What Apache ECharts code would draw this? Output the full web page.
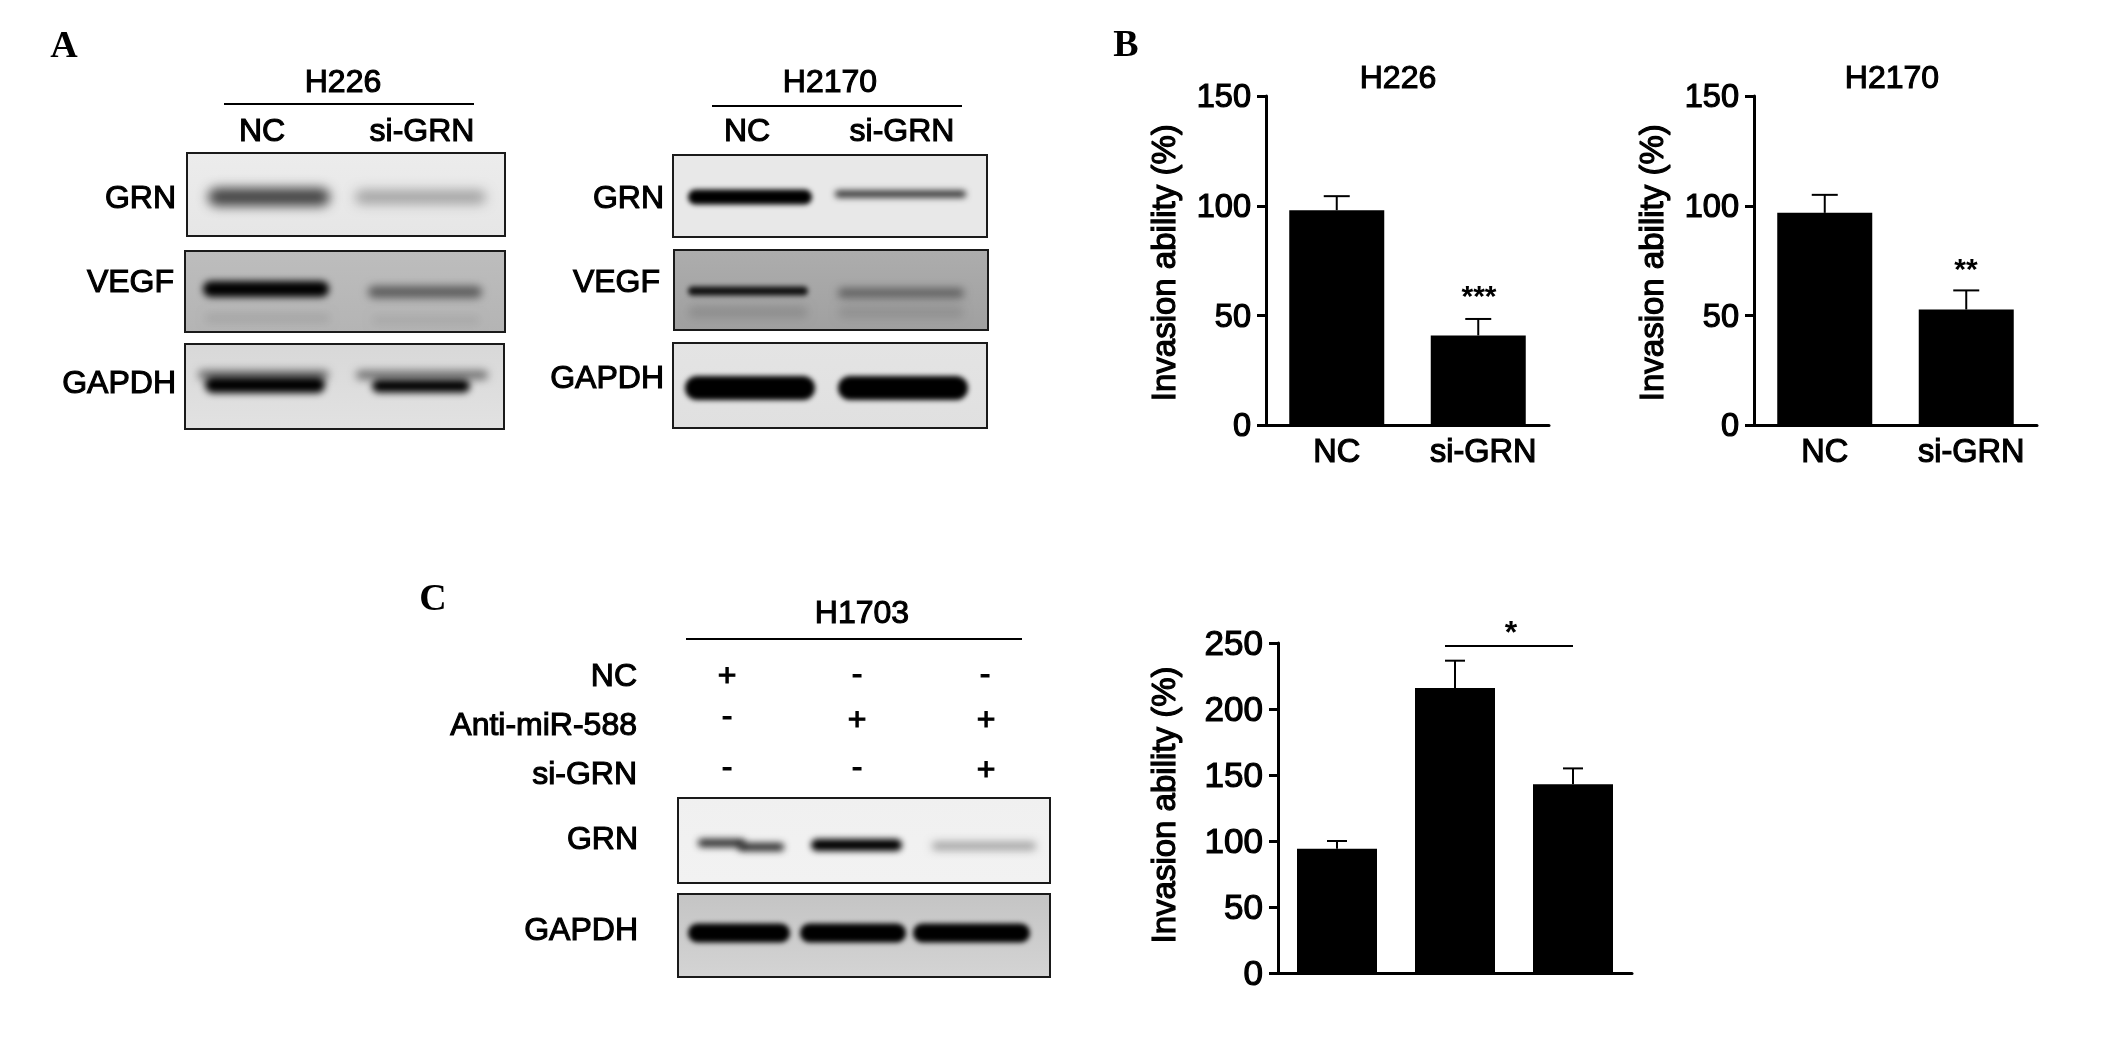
<!DOCTYPE html>
<html><head><meta charset="utf-8">
<style>html,body{margin:0;padding:0;background:#fff}#c{width:2126px;height:1038px}</style>
<script src="https://cdn.jsdelivr.net/npm/echarts@6/dist/echarts.min.js"></script>
</head><body><div id="c"></div>
<script>
// ---- data ----
const twoGroups = ['NC', 'si-GRN'];
const threeGroups = ['NC', 'Anti-miR-588', 'Anti-miR-588 + si-GRN'];
const h226Values = [98, 41];
const h226ErrTop = [104.4, 48.5];
const h2170Values = [96.8, 52.8];
const h2170ErrTop = [105, 61.5];
const h1703Values = [94.2, 216, 143];
const h1703ErrTop = [100, 236.6, 155];
// band darkness of the blots (0..1)
const grnH226 = [0.72, 0.3];
const vegfH226 = [1, 0.5, 0.1, 0.08];
const gapdhH226 = [0.5, 1, 0.5, 1];
const grnH2170 = [1, 0.8];
const vegfH2170 = [0.9, 0.45, 0.13, 0.11];
const gapdhH2170 = [1, 1];
const grnH1703 = [0.85, 0.85, 1, 0.35];
const gapdhH1703 = [1, 1, 1];

// ---- layout ----
const FONT = '"Liberation Sans", Arial, sans-serif';
const OFF = 5000;
const blots = [
  {box:[187,153,505,236], bg:['#ececec','#e6e6e6'], vals:grnH226, lanes:[[208,330,197,18,12],[355,486,197,14,12]]},
  {box:[185,251,505,332], bg:['#bdbdbd','#b4b4b4'], vals:vegfH226, lanes:[[203,329,289,16,7],[368,482,292,12,9],[205,330,318,8,10],[372,480,320,8,10]]},
  {box:[185,344,504,429], bg:['#d8d8d8','#e2e2e2'], vals:gapdhH226, lanes:[[198,329,375,10,9],[205,325,385,16,7],[356,488,375,9,9],[372,470,386,13,7]]},
  {box:[673,155,987,237], bg:['#e8e8e8','#e8e8e8'], vals:grnH2170, lanes:[[688,812,197,15,5],[835,966,194,7,6]]},
  {box:[674,250,988,330], bg:['#adadad','#a0a0a0'], vals:vegfH2170, lanes:[[688,808,291,9,5],[838,964,293,9,8],[688,808,312,12,10],[838,964,312,12,10]]},
  {box:[673,343,987,428], bg:['#e4e4e4','#e0e0e0'], vals:gapdhH2170, lanes:[[685,815,388,24,5],[838,968,388,24,5]]},
  {box:[678,798,1050,883], bg:['#f0f0f0','#f2f2f2'], vals:grnH1703, lanes:[[698,745,843,8,7],[738,784,847,8,7],[811,902,845,12,6],[932,1036,846,8,8]]},
  {box:[678,894,1050,977], bg:['#c4c4c4','#d4d4d4'], vals:gapdhH1703, lanes:[[688,790,933,19,5],[800,906,933,19,5],[913,1030,933,19,5]]}
];
const charts = [
  {rect:[1266,96,283,329.5], cats:twoGroups, vals:h226Values, errs:h226ErrTop, max:150, barW:95, cap:13, gap:84, tickFont:32.5, namePad:[0,4,0,0], showX:true},
  {rect:[1754,96,283,329.5], cats:twoGroups, vals:h2170Values, errs:h2170ErrTop, max:150, barW:95, cap:13, gap:84, tickFont:32.5, namePad:[0,4,0,0], showX:true},
  {rect:[1278,643,354,330], cats:threeGroups, vals:h1703Values, errs:h1703ErrTop, max:250, barW:80, cap:10, gap:96, tickFont:35, namePad:[0,0,0,6], showX:false}
];
const texts = [
  // panel letters
  ['A',64,47,'center',38,'serif'],['B',1126,46,'center',38,'serif'],['C',433,600,'center',38,'serif'],
  // panel A
  ['H226',343,83,'center'],['NC',262,132,'center'],['si-GRN',422,132,'center'],
  ['H2170',830,83,'center'],['NC',747,132,'center'],['si-GRN',902,132,'center'],
  ['GRN',176,199,'right'],['VEGF',174,283,'right'],['GAPDH',176,384,'right'],
  ['GRN',664,199,'right'],['VEGF',660,283,'right'],['GAPDH',664,379,'right'],
  // panel B titles and stars
  ['H226',1398,79,'center'],['H2170',1892,79,'center'],
  ['***',1479,298,'center',30,'bold'],['**',1966,271,'center',30,'bold'],
  // panel C
  ['H1703',862,614,'center'],
  ['NC',637,677,'right'],['Anti-miR-588',637,726,'right'],['si-GRN',637,775,'right'],
  ['GRN',638,840,'right'],['GAPDH',638,931,'right'],
  ['+',727,677,'center'],['-',857,675,'center'],['-',985,675,'center'],
  ['-',727,717,'center'],['+',857,721,'center'],['+',986,721,'center'],
  ['-',727,768,'center'],['-',857,768,'center'],['+',986,771,'center'],
  ['*',1511,634,'center',32,'bold']
];
const rules = [[224,474,104],[712,962,106],[686,1022,639],[1445,1573,646]];

// ---- build option ----
const grid = [], xAxis = [], yAxis = [], series = [];

charts.forEach(c => {
  const i = grid.length;
  grid.push({left:c.rect[0], top:c.rect[1], width:c.rect[2], height:c.rect[3], containLabel:false});
  xAxis.push({gridIndex:i, type:'category',
    data:c.cats.map((n,k)=>k===1 ? {value:n, textStyle:{padding:[0,0,0,10]}} : n),
    axisTick:{show:false},
    axisLine:{lineStyle:{color:'#000',width:3}},
    axisLabel:{show:c.showX, color:'#000', fontFamily:FONT, fontSize:32.5, margin:11, interval:0,
      textBorderColor:'#000', textBorderWidth:1.2}});
  yAxis.push({gridIndex:i, type:'value', min:0, max:c.max, interval:50,
    axisLine:{show:true, onZero:false, lineStyle:{color:'#000',width:3}},
    axisTick:{show:true, length:9, lineStyle:{color:'#000',width:3}},
    splitLine:{show:false},
    axisLabel:{color:'#000', fontFamily:FONT, fontSize:c.tickFont, margin:15, verticalAlign:'top', lineHeight:4,
      textBorderColor:'#000', textBorderWidth:1.2},
    name:'Invasion ability (%)', nameLocation:'middle', nameGap:c.gap,
    nameTextStyle:{color:'#000', fontFamily:FONT, fontSize:33, padding:c.namePad,
      textBorderColor:'#000', textBorderWidth:1.2}});
  series.push({type:'bar', xAxisIndex:i, yAxisIndex:i, data:c.vals, barWidth:c.barW, itemStyle:{color:'#000'}, animation:false});
  series.push({type:'custom', xAxisIndex:i, yAxisIndex:i, z:1, animation:false, silent:true,
    data:c.cats.map((n,k)=>[k,c.vals[k],c.errs[k]]),
    renderItem:(p,api)=>{
      const a = api.coord([api.value(0),api.value(1)]), b = api.coord([api.value(0),api.value(2)]);
      const ls = {stroke:'#000',lineWidth:2};
      return {type:'group',children:[
        {type:'line',shape:{x1:a[0],y1:a[1],x2:b[0],y2:b[1]},style:ls},
        {type:'line',shape:{x1:b[0]-c.cap,y1:b[1],x2:b[0]+c.cap,y2:b[1]},style:ls}
      ]};
    }});
});

const linearBg = (top,bottom)=>new echarts.graphic.LinearGradient(0,0,0,1,[{offset:0,color:top},{offset:1,color:bottom}]);
blots.forEach(b => {
  const i = grid.length;
  const w = b.box[2]-b.box[0], h = b.box[3]-b.box[1];
  grid.push({show:true, left:b.box[0], top:b.box[1], width:w, height:h, backgroundColor:linearBg(b.bg[0],b.bg[1]),
    borderColor:'#1a1a1a', borderWidth:2, containLabel:false});
  xAxis.push({gridIndex:i, type:'value', min:b.box[0], max:b.box[2], show:false});
  yAxis.push({gridIndex:i, type:'value', min:b.box[1], max:b.box[3], inverse:true, show:false, splitLine:{show:false}});
  series.push({type:'custom', xAxisIndex:i, yAxisIndex:i, animation:false, silent:true, clip:false,
    data:b.lanes.map((g,k)=>[...g,b.vals[k]]),
    renderItem:(p,api)=>{
      const t = api.value(3);
      const p0 = api.coord([api.value(0),api.value(2)-t/2]);
      const p1 = api.coord([api.value(1),api.value(2)+t/2]);
      return {type:'rect', shape:{x:p0[0]-OFF,y:p0[1],width:p1[0]-p0[0],height:p1[1]-p0[1],r:t/2},
        style:{fill:'#000',shadowBlur:api.value(4),shadowColor:'rgba(0,0,0,'+api.value(5)+')',shadowOffsetX:OFF}};
    }});
});

const graphic = [];
texts.forEach(t => {
  const serif = t[5]==='serif', bold = t[5]==='bold';
  graphic.push({type:'text', x:t[1], y:t[2], silent:true, style:{
    text:t[0], fill:'#000', align:t[3], verticalAlign:'middle',
    font:(serif||bold?'bold ':'')+(t[4]||32)+'px '+(serif?'"Liberation Serif", serif':FONT),
    stroke:serif||bold?null:'#000', lineWidth:serif||bold?0:1.1}});
});
rules.forEach(r => graphic.push({type:'line', silent:true, shape:{x1:r[0],y1:r[2],x2:r[1],y2:r[2]}, style:{stroke:'#000',lineWidth:2}}));

const chart = echarts.init(document.getElementById('c'), null, {renderer:'canvas'});
chart.setOption({backgroundColor:'#fff', animation:false, grid, xAxis, yAxis, series, graphic});
</script></body></html>
